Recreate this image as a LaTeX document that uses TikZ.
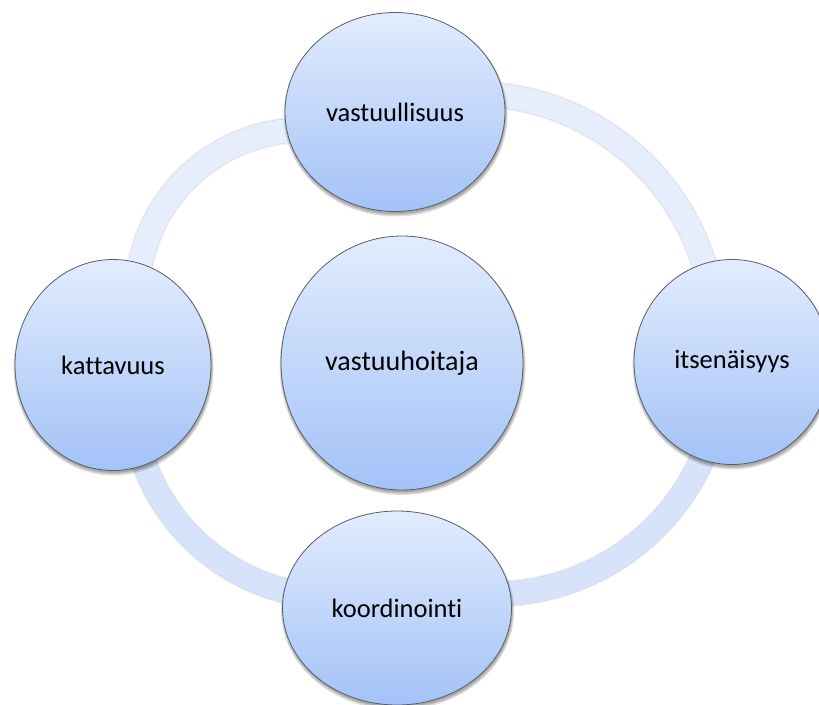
\documentclass[tikz,border=0pt]{standalone}
\usepackage{fontspec}
\setmainfont{Carlito}[Ligatures={NoCommon}]
\usetikzlibrary{shapes.geometric}
\pgfdeclarelayer{paper}
\pgfdeclarelayer{background}
\pgfdeclarelayer{nodeshadow}
\pgfsetlayers{paper,background,nodeshadow,main}
\definecolor{circtop}{HTML}{E2ECFD}
\definecolor{circbot}{HTML}{A3C2F7}
\definecolor{bandtop}{HTML}{E6EDFC}
\definecolor{bandbot}{HTML}{D6E3FB}
\definecolor{rimc}{HTML}{5A5F66}
\tikzset{
  bubble/.style={ellipse, inner sep=0pt, draw=rimc, line width=0.8pt,
    top color=circtop, bottom color=circbot,
    font=\fontsize{26.5}{30}\selectfont, text=black},
  bandshadow/.style={line width=24pt, black, opacity=0.30, line cap=butt},
  bandsoft/.style={line width=27pt, black, opacity=0.06, line cap=butt},
  band/.style={line width=24pt, line cap=butt},
  shadowfill/.style={fill=black, opacity=0.13},
}
\newcommand{\softshadow}[3]{%
  \fill[shadowfill] ([shift={(0.6,2.2)}]#1.center) ellipse [x radius=#2, y radius=#3];
  \fill[shadowfill] ([shift={(0.6,2.6)}]#1.center) ellipse [x radius=#2+1, y radius=#3+1];
  \fill[shadowfill] ([shift={(0.6,3.0)}]#1.center) ellipse [x radius=#2+2, y radius=#3+2];
}
\begin{document}
\begin{tikzpicture}[x=1pt,y=-1pt]
\useasboundingbox (0,0) rectangle (819,704);
\begin{pgfonlayer}{paper}
\fill[white] (0,0) rectangle (819,704);
\end{pgfonlayer}
\node[bubble, minimum width=220pt, minimum height=199pt] (T) at (395,112) {vastuullisuus};
\node[bubble, minimum width=196pt, minimum height=211pt] (L) at (113,365) {kattavuus};
\node[bubble, minimum width=196pt, minimum height=205pt] (R) at (732,362) {itsenäisyys};
\node[bubble, minimum width=229pt, minimum height=194pt] (B) at (397,608) {koordinointi};
\node[bubble, minimum width=242pt, minimum height=254pt, font=\fontsize{28}{32}\selectfont] (C) at (402,363) {vastuuhoitaja};
\coordinate (ctl) at (304,297);
\coordinate (ctr) at (473,336);
\coordinate (cbr) at (494,366);
\coordinate (cbl) at (335,394);
\begin{pgfonlayer}{nodeshadow}
  \softshadow{T}{110}{99.5}
  \softshadow{L}{98}{105.5}
  \softshadow{R}{98}{102.5}
  \softshadow{B}{114.5}{97}
  \softshadow{C}{121}{127}
\end{pgfonlayer}
\begin{pgfonlayer}{background}
  \begin{scope}[shift={(0.7,2.3)}]
    \draw[bandsoft] ([shift={(172:167)}]ctl) arc[start angle=172, end angle=275, radius=167];
    \draw[bandsoft] ([shift={(265:242)}]ctr) arc[start angle=265, end angle=360, radius=242];
    \draw[bandsoft] ([shift={(0:228)}]cbr) arc[start angle=0, end angle=95, radius=228];
    \draw[bandsoft] ([shift={(85:203)}]cbl) arc[start angle=85, end angle=185, radius=203];
    \draw[bandshadow] ([shift={(172:167)}]ctl) arc[start angle=172, end angle=275, radius=167];
    \draw[bandshadow] ([shift={(265:242)}]ctr) arc[start angle=265, end angle=360, radius=242];
    \draw[bandshadow] ([shift={(0:228)}]cbr) arc[start angle=0, end angle=95, radius=228];
    \draw[bandshadow] ([shift={(85:203)}]cbl) arc[start angle=85, end angle=185, radius=203];
  \end{scope}
  \draw[band, bandtop] ([shift={(172:167)}]ctl) arc[start angle=172, end angle=275, radius=167];
  \draw[band, bandtop] ([shift={(265:242)}]ctr) arc[start angle=265, end angle=360, radius=242];
  \draw[band, bandbot] ([shift={(0:228)}]cbr) arc[start angle=0, end angle=95, radius=228];
  \draw[band, bandbot] ([shift={(85:203)}]cbl) arc[start angle=85, end angle=185, radius=203];
\end{pgfonlayer}
\end{tikzpicture}
\end{document}
